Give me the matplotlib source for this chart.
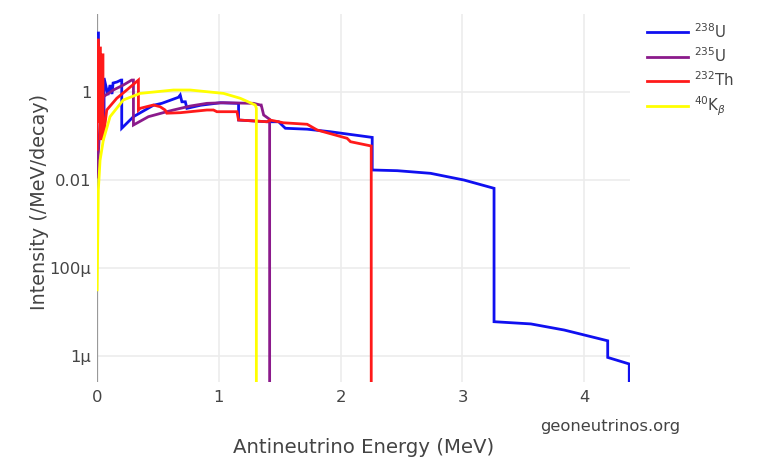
import matplotlib
matplotlib.use("Agg")
import matplotlib.pyplot as plt
import matplotlib.ticker as mticker

# ---- data (energy in MeV, intensity in /MeV/decay) ----
u238_x = [0.0, 0.012, 0.012, 0.03, 0.058, 0.058, 0.09, 0.107, 0.123, 0.132, 0.164, 0.197, 0.203,
          0.203, 0.299, 0.463, 0.532, 0.669, 0.683, 0.697, 0.725, 0.738, 0.85, 1.012, 1.162,
          1.162, 1.396, 1.491, 1.518, 1.546, 1.725, 1.916, 2.259,
          2.259, 2.465, 2.738, 3.012, 3.259,
          3.259, 3.561, 3.835, 4.192, 4.192, 4.369, 4.369]
u238_y = [21.9, 21.9, 0.8, 0.55, 0.15, 2.08, 0.855, 1.44, 0.9, 1.6, 1.69, 1.87, 1.87,
          0.15, 0.275, 0.5, 0.553, 0.76, 0.855, 0.6, 0.6, 0.426, 0.5, 0.57, 0.553,
          0.231, 0.211, 0.211, 0.178, 0.15, 0.143, 0.125, 0.093,
          0.0169, 0.0163, 0.0142, 0.01, 0.00648,
          6.03e-6, 5.37e-6, 3.9e-6, 2.22e-6, 9.3e-7, 6.6e-7, 1e-9]

u235_x = [0.0, 0.025, 0.052, 0.134, 0.216, 0.285, 0.299, 0.299, 0.422, 0.573, 0.627, 0.765,
          0.902, 1.036, 1.285, 1.34, 1.348, 1.368, 1.417, 1.417]
u235_y = [0.0117, 0.2, 0.78, 1.11, 1.44, 1.87, 1.87, 0.178, 0.275, 0.357, 0.39, 0.48,
          0.553, 0.57, 0.553, 0.507, 0.507, 0.3, 0.24, 1e-9]

th232_x = [0.0, 0.004, 0.012, 0.012, 0.02, 0.028, 0.028, 0.041, 0.049, 0.049, 0.08, 0.162,
           0.244, 0.34, 0.34, 0.354, 0.463, 0.518, 0.559, 0.573, 0.683, 0.765, 0.902, 0.956,
           0.984, 1.149, 1.162, 1.396, 1.42, 1.53, 1.725, 1.807, 2.053, 2.081, 2.251, 2.251]
th232_y = [0.05, 15.2, 15.2, 0.2, 10.0, 10.0, 0.081, 7.0, 7.0, 0.08, 0.39, 0.72,
           1.11, 1.87, 0.39, 0.426, 0.507, 0.463, 0.39, 0.33, 0.339, 0.357, 0.39, 0.39,
           0.357, 0.357, 0.231, 0.211, 0.231, 0.2, 0.185, 0.137, 0.0887, 0.0742, 0.0593, 1e-9]

k40_x = [0.001, 0.011, 0.025, 0.052, 0.107, 0.216, 0.354, 0.627, 0.765, 1.039, 1.176, 1.299,
         1.308, 1.308]
k40_y = [3.2e-5, 0.0059, 0.028, 0.081, 0.275, 0.66, 0.93, 1.11, 1.11, 0.93, 0.72, 0.507,
         0.426, 1e-9]

series_labels = [r'$^{238}$U', r'$^{235}$U', r'$^{232}$Th', r'$^{40}$K$_{\beta}$']
series_colors = ['#1010f0', '#8b1a8b', '#ff1a1a', '#ffff00']

x_ticks = [0, 1, 2, 3, 4]
y_ticks = [1e-6, 1e-4, 1e-2, 1]
y_tick_labels = ['1µ', '100µ', '0.01', '1']

# ---- figure ----
W, H = 761, 459
fig = plt.figure(figsize=(W / 100, H / 100), dpi=100)
L, R, T, B = 97, 630, 14, 382
ax = fig.add_axes([L / W, 1 - B / H, (R - L) / W, (B - T) / H])

txt = '#444444'
grid = '#ececec'

ax.set_yscale('log')
ax.set_xlim(0, 4.375)
ax.set_ylim(10 ** -6.59, 10 ** 1.773)

ax.set_xticks(x_ticks)
ax.set_xticklabels([str(v) for v in x_ticks])
ax.set_yticks(y_ticks)
ax.set_yticklabels(y_tick_labels)
ax.yaxis.set_minor_locator(mticker.NullLocator())
ax.tick_params(axis='both', length=0, labelsize=11.8, colors=txt)
ax.tick_params(axis='x', pad=6)
ax.tick_params(axis='y', pad=4)

for s in ax.spines.values():
    s.set_visible(False)
ax.grid(True, color=grid, linewidth=1.2)
ax.set_axisbelow(True)
ax.axvline(0, color='#999999', linewidth=1.6, zorder=1.5)

data = [(u238_x, u238_y), (u235_x, u235_y), (th232_x, th232_y), (k40_x, k40_y)]
for (xs, ys), lab, col in zip(data, series_labels, series_colors):
    ax.plot(xs, ys, color=col, linewidth=2.0, label=lab, solid_joinstyle='miter', zorder=3)

ax.set_xlabel('Antineutrino Energy (MeV)', fontsize=14.2, color=txt, va='center')
ax.set_ylabel('Intensity (/MeV/decay)', fontsize=13.8, color=txt, va='center')
ax.xaxis.set_label_coords(0.5, -0.177)
ax.yaxis.set_label_coords(-0.107, 0.49)

leg = fig.legend(loc='upper left', bbox_to_anchor=(647 / W, 1 - 22 / H), frameon=False,
                 fontsize=10.8, handlelength=2.7, handletextpad=0.45, labelspacing=0.37,
                 borderaxespad=0, borderpad=0)
for t in leg.get_texts():
    t.set_color(txt)

fig.text(610 / W, 1 - 427 / H, 'geoneutrinos.org', ha='center', va='center',
         fontsize=11.8, color=txt)

fig.savefig('out.png', dpi=100)
